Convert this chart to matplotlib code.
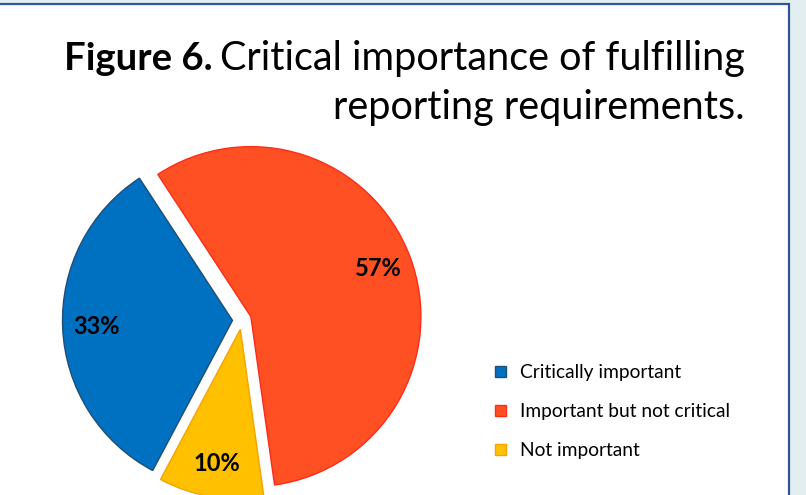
import matplotlib.pyplot as plt
from matplotlib.patches import Rectangle

# survey shares, in percent
categories = ["Critically important", "Important but not critical", "Not important"]
shares = [33, 57, 10]
colors = ["#0070C0", "#FF5023", "#FFC000"]
edges = ["#1F4E79", "#FF2A1A", "#F4A300"]

W, H = 806, 495
fig = plt.figure(figsize=(W / 100, H / 100), dpi=100, facecolor="#E3EEF0")
plt.rcParams["font.family"] = ["Lato", "DejaVu Sans"]

# white panel with a blue frame on top and right
panel = Rectangle((-5, -5), 789 + 5, H - 4 + 5, transform=None, facecolor="white",
                  edgecolor="#2F5597", linewidth=1.6, zorder=-1)
fig.patches.append(panel)

ax = fig.add_axes([0, 0, 1, 1])
ax.patch.set_alpha(0)

# axes units are pixels here, so explode is a pixel offset
wedges, _, autotexts = ax.pie(shares, colors=colors, startangle=242, counterclock=False,
                              explode=[9.5] * 3, center=(242, H - 320), radius=170,
                              autopct="%d%%", pctdistance=0.8,
                              wedgeprops=dict(linewidth=1),
                              textprops=dict(fontsize=17, fontweight="bold", color="black"))
for w, ec in zip(wedges, edges):
    w.set_edgecolor(ec)

ax.set_xlim(0, W)
ax.set_ylim(0, H)
ax.set_aspect("equal")
ax.axis("off")

leg = ax.legend(wedges, categories, loc="upper left", bbox_to_anchor=(478 / W, 1 - 347 / H),
                frameon=False, fontsize=13.8, handlelength=0.55, handleheight=0.55,
                handletextpad=0.75, labelspacing=1.15)

# title: bold lead-in followed by the regular text, right-aligned
fig.canvas.draw()
r = fig.canvas.get_renderer()
t1 = fig.text(745 / W, 1 - 70 / H, "Critical importance of fulfilling", ha="right",
              va="baseline", fontsize=28.5)
fig.text(745 / W, 1 - 119 / H, "reporting requirements.", ha="right", va="baseline",
         fontsize=28.5)
bb = t1.get_window_extent(renderer=r)
fig.text((bb.x0 - 8) / W, 1 - 70 / H, "Figure 6.", ha="right", va="baseline",
         fontsize=27.5, fontweight="bold")

fig.savefig("out.png", dpi=100, facecolor=fig.get_facecolor())
